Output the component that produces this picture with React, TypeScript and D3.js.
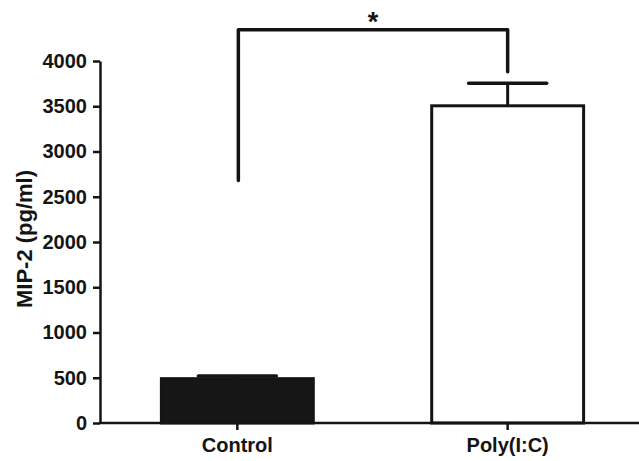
import React, { useEffect, useRef } from 'react';
import * as d3 from 'd3';

const categories = ['Control', 'Poly(I:C)'];
const means = [490, 3505];
const errors = [30, 250];
const yTicks = [0, 500, 1000, 1500, 2000, 2500, 3000, 3500, 4000];
const barFills = ['#161616', '#ffffff'];
// significance bracket: top level and where each leg stops
const bracketTop = 4345;
const bracketLegEnds = [2680, 3880];
const sigLabel = '*';

const W = 639;
const H = 461;

const App = () => {
  const ref = useRef<SVGSVGElement>(null);

  useEffect(() => {
    const svg = d3.select(ref.current);
    svg.selectAll('*').remove();

    const x = d3.scaleBand().domain(categories).range([43, 702]).padding(0.438);
    const y = d3.scaleLinear().domain([0, 4000]).range([423, 61]);
    const font = '"Liberation Sans", Arial, sans-serif';
    const ink = '#141414';

    const cx = (c: string) => (x(c) as number) + x.bandwidth() / 2;

    // bars
    svg.selectAll('.bar')
      .data(categories)
      .enter()
      .append('rect')
      .attr('class', 'bar')
      .attr('x', d => x(d) as number)
      .attr('width', x.bandwidth())
      .attr('y', (d, i) => y(means[i]))
      .attr('height', (d, i) => y(0) - y(means[i]))
      .attr('fill', (d, i) => barFills[i])
      .attr('stroke', ink)
      .attr('stroke-width', 3);

    // error bars
    const capW = 78;
    categories.forEach((c, i) => {
      const top = y(means[i] + errors[i]);
      svg.append('line')
        .attr('x1', cx(c)).attr('x2', cx(c))
        .attr('y1', y(means[i])).attr('y2', top)
        .attr('stroke', ink).attr('stroke-width', 3);
      svg.append('line')
        .attr('x1', cx(c) - capW / 2).attr('x2', cx(c) + capW / 2)
        .attr('y1', top).attr('y2', top)
        .attr('stroke', ink).attr('stroke-width', 3.5)
        .attr('stroke-linecap', 'round');
    });

    // significance bracket
    const bx0 = cx(categories[0]) + 1;
    const bx1 = cx(categories[1]);
    svg.append('path')
      .attr('d', `M${bx0},${y(bracketLegEnds[0])}V${y(bracketTop)}H${bx1}V${y(bracketLegEnds[1])}`)
      .attr('fill', 'none')
      .attr('stroke', ink)
      .attr('stroke-width', 3.5)
      .attr('stroke-linecap', 'round')
      .attr('stroke-linejoin', 'round');
    svg.append('text')
      .attr('x', (bx0 + bx1) / 2)
      .attr('y', 31)
      .attr('text-anchor', 'middle')
      .attr('font-family', font)
      .attr('font-size', 27)
      .attr('font-weight', 'bold')
      .attr('fill', ink)
      .text(sigLabel);

    // y axis
    const yAxis = svg.append('g')
      .attr('transform', 'translate(100,0)')
      .call(d3.axisLeft(y).tickValues(yTicks).tickFormat(d3.format('d')).tickSize(7).tickSizeOuter(0).tickPadding(6));
    yAxis.select('.domain').attr('stroke', ink).attr('stroke-width', 2.5);
    yAxis.selectAll('.tick line').attr('stroke', ink).attr('stroke-width', 2.5);
    yAxis.selectAll('.tick text')
      .attr('font-family', font)
      .attr('font-size', 20)
      .attr('font-weight', 'bold')
      .attr('fill', ink);

    // x axis
    svg.append('line')
      .attr('x1', 99).attr('x2', W)
      .attr('y1', y(0)).attr('y2', y(0))
      .attr('stroke', ink).attr('stroke-width', 2.5);
    const xAxis = svg.append('g')
      .attr('transform', `translate(0,${y(0)})`)
      .call(d3.axisBottom(x).tickSize(7).tickSizeOuter(0).tickPadding(8));
    xAxis.select('.domain').remove();
    xAxis.selectAll('.tick line').attr('stroke', ink).attr('stroke-width', 2.5);
    xAxis.selectAll('.tick text')
      .attr('font-family', font)
      .attr('font-size', 20)
      .attr('font-weight', 'bold')
      .attr('fill', ink);

    // y label
    svg.append('text')
      .attr('transform', 'translate(32,239) rotate(-90)')
      .attr('text-anchor', 'middle')
      .attr('font-family', font)
      .attr('font-size', 22)
      .attr('font-weight', 'bold')
      .attr('fill', ink)
      .text('MIP-2 (pg/ml)');
  }, []);

  return (
    <svg
      ref={ref}
      width={W}
      height={H}
      style={{ position: 'absolute', left: 0, top: 0, background: '#fff' }}
    />
  );
};

export default App;
